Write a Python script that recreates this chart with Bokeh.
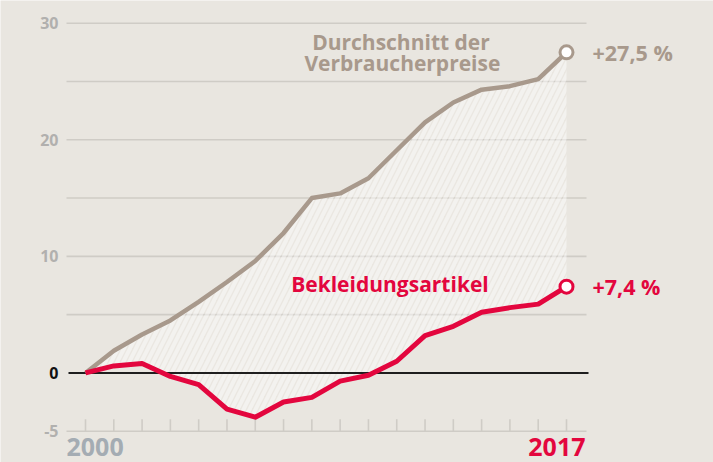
from bokeh.plotting import figure
from bokeh.models import Range1d
from bokeh.core.properties import value
from bokeh.embed import file_html
from bokeh.resources import INLINE

# ---- data ----
years = list(range(2000, 2018))
cpi = [0, 1.9, 3.3, 4.5, 6.1, 7.8, 9.6, 12.0, 15.0, 15.4, 16.7, 19.1, 21.5, 23.2, 24.3, 24.6, 25.2, 27.5]
clothing = [0, 0.6, 0.8, -0.3, -1.0, -3.1, -3.8, -2.5, -2.1, -0.7, -0.2, 1.0, 3.2, 4.0, 5.2, 5.6, 5.9, 7.4]
y_ticks_gray = [-5, 10, 20, 30]
grid_values = [-5, 5, 10, 15, 20, 25, 30]
cpi_label = "+27,5 %"
clothing_label = "+7,4 %"
cpi_title = ["Durchschnitt der", "Verbraucherpreise"]
clothing_title = "Bekleidungsartikel"

# ---- style ----
BG = "#e9e6e0"
TAN = "#a8998c"
RED = "#e3063e"
GRID = "#cfccc6"
TICKLBL = "#b1b0ae"
YEARLBL = "#a4acb3"
FONT = value("Open Sans")

W, H = 713, 462
# pixel geometry (plot coordinates)
x0_px, px_per_year = 85.0, 481 / 17
ym5_px, px_per_unit = 430.7, 408 / 35

x_start = 2000 - x0_px / px_per_year
x_end = 2000 + (W - x0_px) / px_per_year
y_start = -5 - (H - ym5_px) / px_per_unit
y_end = -5 + ym5_px / px_per_unit

p = figure(width=W, height=H, output_backend="svg", toolbar_location=None,
           x_range=Range1d(x_start, x_end), y_range=Range1d(y_start, y_end),
           min_border=0, background_fill_color=BG, border_fill_color=BG,
           outline_line_color=None)
p.xaxis.visible = False
p.yaxis.visible = False
p.xgrid.visible = False
p.ygrid.visible = False

grid_left = 2000 - 19 / px_per_year
grid_right = 2017 + 20 / px_per_year

# horizontal grid lines
p.segment(x0=[grid_left] * len(grid_values), y0=grid_values,
          x1=[grid_right] * len(grid_values), y1=grid_values,
          line_color=GRID, line_width=1.6)

# hatched area between the series
p.varea(x=years, y1=clothing, y2=cpi, fill_color="white", fill_alpha=0.05,
        hatch_pattern="/", hatch_color="white", hatch_alpha=0.45,
        hatch_weight=4, hatch_scale=12)

# ticks at the bottom
tick_len = 12 / px_per_unit
p.segment(x0=years, y0=[-5] * len(years), x1=years, y1=[-5 + tick_len] * len(years),
          line_color=GRID, line_width=1.6)

# zero line
p.segment(x0=[grid_left + 2 / px_per_year], y0=[0], x1=[grid_right + 2 / px_per_year], y1=[0],
          line_color="#1e1e1e", line_width=2)

# series lines
p.line(years, cpi, line_color=TAN, line_width=4.5, line_join="round")
p.line(years, clothing, line_color=RED, line_width=5, line_join="round")
p.scatter([years[-1]], [cpi[-1]], size=13, fill_color="white", line_color=TAN, line_width=3)
p.scatter([years[-1]], [clothing[-1]], size=13, fill_color="white", line_color=RED, line_width=3)

# end labels
p.text(x=[years[-1]], y=[cpi[-1]], text=[cpi_label], x_offset=26, text_align="left",
       text_baseline="middle", text_font=FONT, text_font_style="bold",
       text_font_size="21.5px", text_color=TAN)
p.text(x=[years[-1]], y=[clothing[-1]], text=[clothing_label], x_offset=26, text_align="left",
       text_baseline="middle", text_font=FONT, text_font_style="bold",
       text_font_size="21.5px", text_color=RED)

# series titles
p.text(x=[2011.15, 2011.2], y=[28.35, 26.55], text=cpi_title, text_align="center",
       text_baseline="middle", text_font=FONT, text_font_style="bold",
       text_font_size="21px", text_color=TAN)
p.text(x=[2010.76], y=[7.6], text=[clothing_title], text_align="center",
       text_baseline="middle", text_font=FONT, text_font_style="bold",
       text_font_size="21px", text_color=RED)

# y tick labels
p.text(x=[2000] * len(y_ticks_gray), y=y_ticks_gray, text=[str(v) for v in y_ticks_gray],
       x_offset=-27, text_align="right", text_baseline="middle", text_font=FONT,
       text_font_style="bold", text_font_size="16px", text_color=TICKLBL)
p.text(x=[2000], y=[0], text=["0"], x_offset=-27, text_align="right",
       text_baseline="middle", text_font=FONT, text_font_style="bold",
       text_font_size="16px", text_color="#111111")

# year labels
p.text(x=[years[0]], y=[-5], text=[str(years[0])], x_offset=-19, y_offset=16,
       text_align="left", text_baseline="middle", text_font=FONT, text_font_style="bold",
       text_font_size="25px", text_color=YEARLBL)
p.text(x=[years[-1]], y=[-5], text=[str(years[-1])], x_offset=19, y_offset=16,
       text_align="right", text_baseline="middle", text_font=FONT, text_font_style="bold",
       text_font_size="25px", text_color=RED)

open("out.html", "w").write(file_html(p, INLINE))
